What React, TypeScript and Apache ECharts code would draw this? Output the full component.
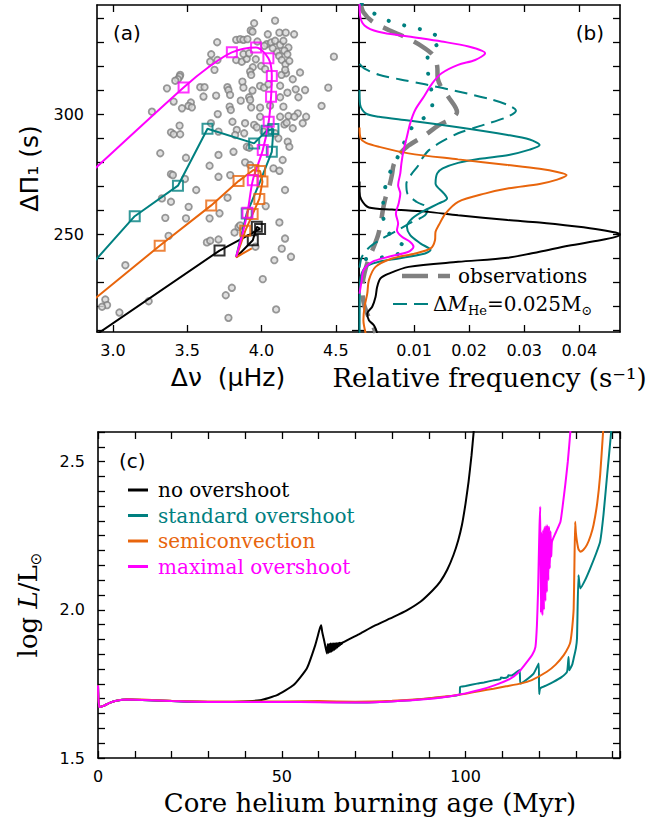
import React, { useEffect, useRef } from 'react';
import * as echarts from 'echarts';

const BLACK = '#000000';
const TEAL = '#008080';
const ORANGE = '#e8650c';
const MAGENTA = '#ff00ff';
const GRAY = '#808080';
const SANS = 'DejaVu Sans';
const SERIF = 'DejaVu Serif';

// ---------- (a) period spacing vs. large frequency separation ----------
// observed red-clump stars: [Δν (μHz), ΔΠ1 (s)]
const observedStars: number[][] = [
  [3.950,337.9],[4.091,339.0],[3.927,334.9],[3.939,334.4],[4.042,333.3],[4.120,334.0],[4.163,334.0],[4.219,333.3],
  [3.701,330.0],[3.829,331.0],[3.856,331.3],[3.878,331.0],[3.905,331.3],[3.972,330.3],[4.035,329.2],[4.064,329.9],
  [4.091,330.6],[4.125,328.9],[4.147,330.6],[4.181,327.8],[4.154,326.5],[4.174,325.0],[4.103,326.1],[4.075,327.5],
  [4.019,328.5],[3.661,325.0],[3.654,321.9],[3.703,322.6],[3.683,318.5],[3.829,322.6],[3.867,321.9],[3.900,323.1],
  [3.878,325.1],[3.916,325.4],[3.961,322.9],[3.941,319.6],[3.923,317.8],[3.930,316.4],[3.997,320.1],[4.024,318.8],
  [4.118,324.3],[4.136,322.6],[4.161,320.8],[4.187,322.2],[4.259,317.4],[4.210,314.6],[4.165,317.1],[4.134,316.4],
  [4.159,318.5],[4.487,324.0],[3.452,316.4],[3.448,315.7],[3.437,314.6],[3.419,314.0],[3.587,311.3],[3.616,311.3],
  [3.609,307.4],[3.694,307.8],[3.770,311.3],[3.777,310.1],[3.788,308.1],[3.871,313.6],[3.878,311.1],[3.939,309.9],
  [3.916,307.1],[3.990,311.8],[4.017,311.1],[4.046,312.5],[4.125,311.9],[4.174,309.0],[4.230,310.4],[4.293,310.1],
  [4.449,311.1],[4.125,307.1],[4.248,307.1],[4.404,303.5],[3.524,304.9],[3.508,303.5],[3.531,302.9],[3.464,302.5],
  [3.785,303.2],[3.793,301.8],[3.860,305.7],[3.923,306.0],[3.930,302.9],[3.990,302.8],[4.057,303.6],[4.147,303.2],
  [4.181,299.3],[4.244,300.4],[4.300,299.0],[4.221,299.0],[4.125,299.0],[3.990,299.0],[3.705,300.1],
  [3.262,301.1],[3.390,292.5],[3.408,291.7],[3.452,291.7],[3.448,295.3],[3.659,296.3],[3.710,292.8],[3.804,296.9],
  [3.833,293.5],[3.822,291.4],[3.883,292.1],[3.889,296.3],[3.950,295.6],[3.968,294.6],[4.013,292.8],[4.154,295.8],
  [4.169,296.5],[4.210,294.2],[4.277,296.3],[4.113,290.0],[4.091,292.1],[3.318,283.8],[3.491,281.9],[3.710,283.1],
  [3.811,284.4],[3.901,286.5],[3.918,286.1],[3.889,280.0],[3.923,278.9],[4.080,277.5],[4.120,276.5],[4.142,281.0],
  [4.176,288.6],[4.187,286.5],[3.390,275.1],[3.403,274.7],[3.484,273.1],[3.560,268.5],[3.650,278.6],[3.710,274.0],
  [3.789,274.7],[3.390,263.6],[3.329,265.0],[3.509,261.5],[3.771,265.3],[4.028,261.8],[4.158,268.5],
  [3.352,256.9],[3.650,256.7],[3.717,258.8],[3.491,256.7],[3.374,249.4],[3.632,246.7],[3.654,247.4],[3.710,247.9],
  [3.818,250.8],[3.845,253.1],[3.856,253.8],[4.120,255.0],[4.158,248.3],[4.136,244.1],[4.198,240.7],[4.086,239.3],
  [4.008,231.4],[3.800,227.8],[3.759,224.7],[3.777,215.3],[4.098,218.8],[3.083,237.2],[3.240,222.2],[2.948,222.9],
  [2.960,220.6],[2.926,219.9],[3.043,217.5],[3.959,244.9],[3.363,310.8],[3.408,305.3],
];

// model tracks (line) and equally spaced age markers (squares)
const trackNoOvershoot = [[3.829,240.5],[3.941,247.6],[3.968,253.2],[3.990,252.3],[3.717,243.3],[2.88,208.0]];
const markNoOvershoot = [[3.717,243.3],[3.941,247.6],[3.968,253.2],[3.990,252.3]];

const trackStandard = [[3.829,240.7],[3.900,258.7],[3.990,272.0],[4.069,284.4],[4.080,293.9],[4.035,293.2],[3.950,287.9],[3.636,294.0],[3.437,270.3],[3.146,257.6],[2.85,237.1]];
const markStandard = [[3.146,257.6],[3.437,270.3],[3.636,294.0],[3.950,287.9],[4.035,293.2],[4.080,293.9],[4.069,284.4],[3.900,258.7]];

const trackSemiconv = [[3.934,244.2],[3.829,240.5],[3.890,251.5],[3.940,258.5],[3.985,264.8],[4.006,272.0],[3.990,276.4],[3.945,276.8],[3.845,272.2],[3.661,262.1],[3.314,245.3],[2.85,221.9]];
const markSemiconv = [[3.314,245.3],[3.661,262.1],[3.845,272.2],[3.945,276.8],[3.990,276.4],[4.006,272.0],[3.985,264.8],[3.940,258.5],[3.890,251.5]];

const trackMaximal = [[3.829,240.7],[3.870,250.0],[3.905,259.0],[3.941,272.6],[4.008,285.1],[4.048,296.9],[4.064,307.3],[4.069,316.0],[4.046,323.3],[3.963,327.8],[3.800,325.8],[3.640,319.5],[3.475,311.2],[2.85,275.8]];
const markMaximal = [[3.905,259.0],[3.941,272.6],[4.008,285.1],[4.048,296.9],[4.064,307.3],[4.069,316.0],[4.046,323.3],[3.963,327.8],[3.800,325.8],[3.475,311.2]];

// ---------- (b) distributions of ΔΠ1: [relative frequency (1/s), ΔΠ1 (s)] ----------
const distObservations = [[0.0003,346],[0.0008,342.5],[0.0025,338.5],[0.0055,335],[0.0085,332],[0.0115,328.2],[0.0135,324.5],[0.0142,320],[0.0143,315],[0.0150,311],[0.0163,307],[0.0178,301],[0.0170,298.5],[0.0145,295.5],[0.0118,291],[0.0090,287],[0.0072,283],[0.0063,279],[0.0060,275],[0.0055,270],[0.0049,266],[0.0044,261],[0.0040,255.5],[0.0035,250],[0.0028,245.5],[0.0018,240],[0.0010,234],[0.0006,228],[0.0008,222],[0.0014,217.5],[0.0021,214],[0.0028,210.5],[0.0030,209]];
const distNoOvershoot = [[0.0001,272],[0.0001,268],[0.0004,264.5],[0.0018,261.2],[0.006,260.4],[0.012,259.5],[0.018,258.0],[0.027,256.0],[0.0328,255.0],[0.0395,253.3],[0.0438,252.0],[0.0466,250.8],[0.0474,250.0],[0.0466,249.0],[0.0438,247.6],[0.038,245.3],[0.0328,242.8],[0.027,240.3],[0.018,238.6],[0.009,236.5],[0.0054,233.7],[0.0039,231.7],[0.0033,228.2],[0.0030,224.0],[0.0024,219.9],[0.0015,217.1],[0.0018,214.3],[0.0027,212.2],[0.0033,209.0]];
const distStandard = [[0.0001,310.1],[0.0002,304],[0.0012,300.4],[0.0036,299.0],[0.009,297.4],[0.018,294.6],[0.027,291.4],[0.031,289.5],[0.0328,287.2],[0.031,285.3],[0.0272,283.1],[0.022,281.5],[0.018,279.8],[0.0152,277.5],[0.0142,275.4],[0.0139,271.2],[0.0154,267.1],[0.0160,265.0],[0.0145,262.9],[0.0120,260.1],[0.0097,256.7],[0.0087,253.2],[0.0093,249.7],[0.0112,246.2],[0.0130,243.5],[0.0120,242.1],[0.0072,240.0],[0.0036,238.6],[0.0012,236.5],[0.0002,231.0],[0.0001,209]];
const distThinEnvelope = [[0.0001,321],[0.0010,319],[0.0036,316.5],[0.0075,314.5],[0.012,312.5],[0.018,309.5],[0.0235,306.5],[0.027,303.9],[0.0285,301.5],[0.027,299.0],[0.0225,295.5],[0.018,292.1],[0.015,288.6],[0.0127,285.1],[0.0115,281.7],[0.0107,278.5],[0.0095,275.0],[0.0086,271.0],[0.0088,267.0],[0.0105,263.5],[0.0125,261.0],[0.0120,258.0],[0.0095,255.0],[0.0068,251.5],[0.0040,248.0],[0.0018,244.5],[0.0005,240.5],[0.0001,236]];
const distThickEnvelope = [[0.0005,346],[0.0016,343.75],[0.0042,340],[0.0072,337.6],[0.0099,336.1],[0.0128,334.2],[0.0150,330.7],[0.0128,326.5],[0.0124,321],[0.0127,314.7],[0.0134,306],[0.0127,300.1],[0.0101,296],[0.0087,290.7],[0.0075,284.4],[0.0062,278.5],[0.0053,274.0],[0.0046,268],[0.0044,264.3],[0.0044,258],[0.0050,252],[0.0065,248],[0.0085,244.2],[0.0063,241.2],[0.0035,240.3],[0.0010,239.5],[0.0002,236]];
const distSemiconv = [[0.0001,294.5],[0.0003,290],[0.0012,288.2],[0.0036,286.5],[0.009,283.75],[0.018,281.25],[0.027,278.9],[0.0328,277.3],[0.0360,276.0],[0.0377,274.7],[0.0360,272.8],[0.0328,271.0],[0.0272,269.2],[0.0230,267.1],[0.0180,263.6],[0.0157,258.7],[0.0145,253.9],[0.0139,251.1],[0.0138,247.6],[0.0130,244.2],[0.0102,242.1],[0.0060,240.0],[0.0030,236.5],[0.0018,231.0],[0.0015,225.4],[0.0010,219.9],[0.0008,214.3],[0.0012,209.0]];
const distMaximal = [[0.0001,346],[0.0002,341],[0.0010,337],[0.0035,334.4],[0.009,332.4],[0.015,330.3],[0.0199,328.2],[0.0229,325.4],[0.0211,322.6],[0.018,320.6],[0.015,317.1],[0.0133,312.9],[0.0118,307.4],[0.0102,301.8],[0.0093,296.3],[0.0087,290.7],[0.0081,285.1],[0.0077,279.6],[0.0075,275.4],[0.0071,270.5],[0.0075,267.1],[0.0072,262.9],[0.0067,258.7],[0.0071,254.6],[0.0069,251.8],[0.0078,249.0],[0.0093,246.9],[0.0099,244.9],[0.0090,242.8],[0.0054,240.7],[0.0024,238.6],[0.0008,235.1],[0.0005,231.0],[0.0001,225.4]];

// ---------- (c) luminosity vs. core-helium-burning age: [age (Myr), log L/Lsun] ----------
const lumNoOvershoot = [[0,1.745],[0.3,1.672],[1.5,1.676],[3,1.685],[5,1.693],[8,1.697],[12,1.696],[20,1.692],[30,1.689],[38,1.690],[44.1,1.695],[48.7,1.712],[53.2,1.746],[56.8,1.802],[59.1,1.881],[60.3,1.935],[60.7,1.948],[61.0,1.925],[61.4,1.903],[62.0,1.868],[62.3,1.853],
  [62.5,1.884],[62.7,1.855],[62.9,1.885],[63.1,1.857],[63.3,1.886],[63.5,1.859],[63.7,1.886],[63.9,1.862],[64.1,1.886],[64.3,1.865],[64.5,1.887],[64.7,1.869],[64.9,1.887],[65.1,1.873],[65.3,1.888],[65.5,1.877],[65.7,1.889],[65.9,1.881],[66.1,1.889],[66.3,1.885],[66.6,1.890],
  [71.3,1.920],[75,1.945],[80.4,1.976],[84,1.998],[87.7,2.027],[91,2.065],[93.1,2.095],[95,2.135],[96.7,2.185],[98,2.235],[99.0,2.286],[100,2.36],[100.8,2.432],[101.6,2.52],[102.2,2.601],[102.5,2.65]];
const lumStandard = [[0,1.745],[0.3,1.672],[1.5,1.676],[3,1.685],[5,1.693],[8,1.697],[12,1.696],[20,1.692],[30,1.689],[40,1.689],[50,1.689],[60,1.689],[70,1.687],[78,1.690],[85,1.695],[90,1.701],[94,1.706],[98.4,1.714],[98.5,1.740],[100,1.743],[103.1,1.751],[105,1.755],[107.6,1.762],[109.5,1.766],[109.6,1.772],[110.5,1.770],[111.5,1.774],[111.6,1.779],[112.5,1.778],[114.0,1.791],[114.7,1.797],[114.9,1.751],[116,1.759],[118.5,1.785],[119.9,1.819],[120.0,1.716],[120.3,1.735],[122,1.745],[123.9,1.757],[126,1.772],[127.6,1.791],[128.0,1.841],[128.2,1.796],[129.0,1.815],[129.4,1.836],[130.0,1.870],[130.3,1.903],[130.7,2.117],[131.2,2.072],[132.5,2.100],[133.9,2.140],[135.5,2.190],[136.6,2.230],[137.5,2.320],[138.5,2.455],[139.6,2.601],[139.8,2.65]];
const lumSemiconv = [[0,1.745],[0.3,1.672],[1.5,1.676],[3,1.685],[5,1.693],[8,1.698],[12,1.697],[20,1.693],[30,1.691],[40,1.691],[50,1.691],[60,1.692],[70,1.690],[80,1.693],[88,1.699],[95,1.708],[100,1.717],[104,1.726],[107.6,1.734],[111,1.742],[114.9,1.751],[118,1.763],[122.1,1.791],[124.5,1.815],[126.7,1.847],[128.0,1.875],[128.5,1.892],[129.0,1.940],[129.4,2.005],[129.6,2.150],[129.8,2.297],[130.0,2.260],[130.3,2.230],[130.7,2.205],[131.2,2.196],[132,2.202],[133,2.219],[134,2.250],[134.8,2.286],[135.8,2.360],[136.6,2.455],[137.4,2.601],[137.6,2.65]];
const lumMaximal = [[0,1.745],[0.3,1.672],[1.5,1.676],[3,1.685],[5,1.693],[8,1.697],[12,1.696],[20,1.692],[30,1.689],[40,1.689],[50,1.689],[60,1.688],[70,1.687],[80,1.691],[88,1.697],[95,1.707],[100,1.718],[104,1.730],[108,1.746],[112.2,1.768],[114.5,1.790],[116.7,1.824],[118.2,1.850],[119.0,1.875],[119.4,1.948],[119.7,2.060],[119.9,2.174],[120.1,2.280],[120.3,2.348],
  [120.5,1.990],[120.7,2.260],[120.9,1.982],[121.1,2.270],[121.3,2.000],[121.5,2.280],[121.7,2.030],[121.9,2.285],[122.1,2.060],[122.3,2.285],[122.5,2.100],[122.7,2.280],[122.9,2.140],[123.1,2.265],[123.3,2.180],[123.5,2.230],
  [124.5,2.260],[125.8,2.297],[126.5,2.360],[127.1,2.421],[127.8,2.500],[128.5,2.601],[128.7,2.65]];

// ---------- axis ticks and labels ----------
const dnuTicks = [3.0, 3.5, 4.0, 4.5];
const periodTicks = [210, 220, 230, 240, 250, 260, 270, 280, 290, 300, 310, 320, 330, 340];
const periodLabels = [250, 300];
const freqTicks = [0.01, 0.02, 0.03, 0.04];
const ageLabels = [0, 50, 100];
const lumLabels = [1.5, 2.0, 2.5];

const legendEntries = [
  { name: 'no overshoot', color: BLACK },
  { name: 'standard overshoot', color: TEAL },
  { name: 'semiconvection', color: ORANGE },
  { name: 'maximal overshoot', color: MAGENTA },
];

function axis(cfg: any) {
  const a: any = {
    type: 'value',
    gridIndex: cfg.grid,
    position: cfg.position,
    min: cfg.min,
    max: cfg.max,
    splitLine: { show: false },
    axisLine: { show: true, onZero: false, lineStyle: { color: '#000', width: 1.6 } },
    axisTick: { show: true, inside: true, length: 7, lineStyle: { color: '#000', width: 1.3 } },
    axisLabel: { show: !!cfg.labels, color: '#000', fontFamily: SANS, fontSize: 16, margin: cfg.margin ?? 10 },
  };
  if (cfg.interval) a.interval = cfg.interval;
  if (cfg.ticks) a.axisTick.customValues = cfg.ticks;
  if (cfg.labels) {
    const fmt = cfg.fmt || ((v: number) => String(v));
    if (cfg.interval) {
      a.axisLabel.formatter = (v: number) => (cfg.labels.some((l: number) => Math.abs(l - v) < 1e-6) ? fmt(v) : '');
    } else {
      a.axisLabel.customValues = cfg.labels;
      a.axisLabel.formatter = fmt;
    }
  }
  if (cfg.name) {
    a.name = cfg.name;
    a.nameLocation = 'middle';
    a.nameGap = cfg.nameGap;
    a.nameTextStyle = cfg.nameStyle;
  }
  return a;
}

function track(data: number[][], color: string, xi: number, smooth: number | boolean = false) {
  return {
    type: 'line', data, xAxisIndex: xi, yAxisIndex: xi, symbol: 'none', smooth,
    lineStyle: { color, width: 2 }, silent: true, z: 3,
  };
}

function markers(data: number[][], color: string) {
  return {
    type: 'scatter', data, xAxisIndex: 0, yAxisIndex: 0, symbol: 'rect', symbolSize: 10,
    itemStyle: { color: 'rgba(255,255,255,0)', borderColor: color, borderWidth: 2 }, silent: true, z: 4,
  };
}

function distLine(data: number[][], color: string, width: number, type: any = 'solid', cap = 'butt') {
  return {
    type: 'line', data, xAxisIndex: 2, yAxisIndex: 2, symbol: 'none', smooth: 0.3,
    lineStyle: { color, width, type, cap }, silent: true, z: 3,
  };
}

function ageLine(data: number[][], color: string) {
  return {
    type: 'line', data, xAxisIndex: 4, yAxisIndex: 4, symbol: 'none', smooth: 0.15,
    lineStyle: { color, width: 2 }, silent: true, z: 3,
  };
}

function label(text: string, x: number, y: number, align: string, font: string, color = '#000') {
  return {
    type: 'text', x, y, silent: true,
    style: { text, fill: color, font, textAlign: align, align, textVerticalAlign: 'middle', verticalAlign: 'middle' },
  };
}

export default function App() {
  const ref = useRef<HTMLDivElement>(null);

  useEffect(() => {
    if (!ref.current) return;
    const chart = echarts.init(ref.current, null, { renderer: 'svg' });
    const f1 = (v: number) => v.toFixed(1);

    const legendC: any[] = [];
    legendEntries.forEach((e, i) => {
      const y = 490 + i * 25.5;
      legendC.push({ type: 'line', silent: true, shape: { x1: 128, y1: y, x2: 148, y2: y }, style: { stroke: e.color, lineWidth: 3 } });
      legendC.push(label(e.name, 158, y, 'left', `20px "${SERIF}"`, e.color));
    });

    chart.setOption({
      animation: false,
      backgroundColor: '#ffffff',
      grid: [
        { left: 97, top: 5, width: 262, height: 327 },
        { left: 359, top: 5, width: 261, height: 327 },
        { left: 98, top: 432, width: 522, height: 326 },
      ],
      xAxis: [
        axis({ grid: 0, position: 'bottom', min: 2.892, max: 4.656, ticks: dnuTicks, labels: dnuTicks, fmt: f1,
          name: 'Δν  (μHz)', nameGap: 33, nameStyle: { fontFamily: SANS, fontSize: 25, color: '#000' } }),
        axis({ grid: 0, position: 'top', min: 2.892, max: 4.656, ticks: dnuTicks }),
        axis({ grid: 1, position: 'bottom', min: 0, max: 0.0474, ticks: freqTicks, labels: freqTicks, fmt: (v: number) => v.toFixed(2),
          name: 'Relative frequency (s⁻¹)', nameGap: 33, nameStyle: { fontFamily: SERIF, fontSize: 26, color: '#000' } }),
        axis({ grid: 1, position: 'top', min: 0, max: 0.0474, ticks: freqTicks }),
        axis({ grid: 2, position: 'bottom', min: 0, max: 142, interval: 10, labels: ageLabels, fmt: (v: number) => String(Math.round(v)),
          name: 'Core helium burning age (Myr)', nameGap: 32,
          nameStyle: { fontFamily: SERIF, fontSize: 26, color: '#000', padding: [0, 0, 0, 22] } }),
        axis({ grid: 2, position: 'top', min: 0, max: 142, interval: 10 }),
      ],
      yAxis: [
        axis({ grid: 0, position: 'left', min: 209.4, max: 345.5, ticks: periodTicks, labels: periodLabels, margin: 13,
          name: 'ΔΠ₁ (s)', nameGap: 55, nameStyle: { fontFamily: SANS, fontSize: 25, color: '#000' } }),
        axis({ grid: 0, position: 'right', min: 209.4, max: 345.5, ticks: periodTicks }),
        axis({ grid: 1, position: 'left', min: 209.4, max: 345.5, ticks: periodTicks }),
        axis({ grid: 1, position: 'right', min: 209.4, max: 345.5, ticks: periodTicks }),
        axis({ grid: 2, position: 'left', min: 1.5, max: 2.6, interval: 0.05, labels: lumLabels, fmt: f1, margin: 13,
          name: '{n|log }{i|L}{n|/L}{s|⊙}', nameGap: 55,
          nameStyle: {
            padding: [0, 20, 0, 0],
            rich: {
              n: { fontFamily: SERIF, fontSize: 26, color: '#000', lineHeight: 30 },
              i: { fontFamily: SERIF, fontSize: 26, fontStyle: 'italic', color: '#000', lineHeight: 30 },
              s: { fontFamily: SANS, fontSize: 15, color: '#000', verticalAlign: 'bottom' },
            },
          } }),
        axis({ grid: 2, position: 'right', min: 1.5, max: 2.6, interval: 0.05 }),
      ],
      series: [
        {
          type: 'scatter', data: observedStars, xAxisIndex: 0, yAxisIndex: 0, symbol: 'circle', symbolSize: 6.5,
          itemStyle: { color: '#d8d8d8', borderColor: GRAY, borderWidth: 1.8 }, silent: true, z: 2,
        },
        track(trackNoOvershoot, BLACK, 0),
        track(trackStandard, TEAL, 0),
        track(trackSemiconv, ORANGE, 0),
        track(trackMaximal, MAGENTA, 0, 0.3),
        markers(markNoOvershoot, BLACK),
        markers(markStandard, TEAL),
        markers(markSemiconv, ORANGE),
        markers(markMaximal, MAGENTA),

        distLine(distObservations, GRAY, 4.5, [22, 12]),
        distLine(distThickEnvelope, TEAL, 4, [0.1, 16], 'round'),
        distLine(distThinEnvelope, TEAL, 2, [13, 7]),
        distLine(distNoOvershoot, BLACK, 2),
        distLine(distStandard, TEAL, 2),
        distLine(distSemiconv, ORANGE, 2),
        distLine(distMaximal, MAGENTA, 2),

        ageLine(lumNoOvershoot, BLACK),
        ageLine(lumStandard, TEAL),
        ageLine(lumSemiconv, ORANGE),
        ageLine(lumMaximal, MAGENTA),
      ],
      graphic: [
        label('(a)', 113, 33, 'left', `20px "${SANS}"`),
        label('(b)', 604, 33, 'right', `20px "${SANS}"`),
        label('(c)', 119, 461, 'left', `20px "${SANS}"`),
        { type: 'line', silent: true, shape: { x1: 402, y1: 276, x2: 450, y2: 276 }, style: { stroke: GRAY, lineWidth: 4.5, lineDash: [26, 10] } },
        label('observations', 458, 276, 'left', `20px "${SERIF}"`),
        { type: 'line', silent: true, shape: { x1: 393, y1: 304, x2: 430, y2: 304 }, style: { stroke: TEAL, lineWidth: 2, lineDash: [14, 7] } },
        {
          type: 'text', x: 433, y: 304, silent: true,
          style: {
            text: '{n|Δ}{i|M}{s|He}{n|=0.025M}{s|⊙}',
            textVerticalAlign: 'middle', verticalAlign: 'middle',
            rich: {
              n: { fontFamily: SERIF, fontSize: 20, fill: '#000', lineHeight: 26 },
              i: { fontFamily: SERIF, fontSize: 20, fontStyle: 'italic', fill: '#000', lineHeight: 26 },
              s: { fontFamily: SERIF, fontSize: 13, fill: '#000', verticalAlign: 'bottom' },
            },
          },
        },
        ...legendC,
      ],
    });

    return () => chart.dispose();
  }, []);

  return (
    <div
      ref={ref}
      style={{ position: 'absolute', left: 0, top: 0, width: 671, height: 821, background: '#fff' }}
    />
  );
}
